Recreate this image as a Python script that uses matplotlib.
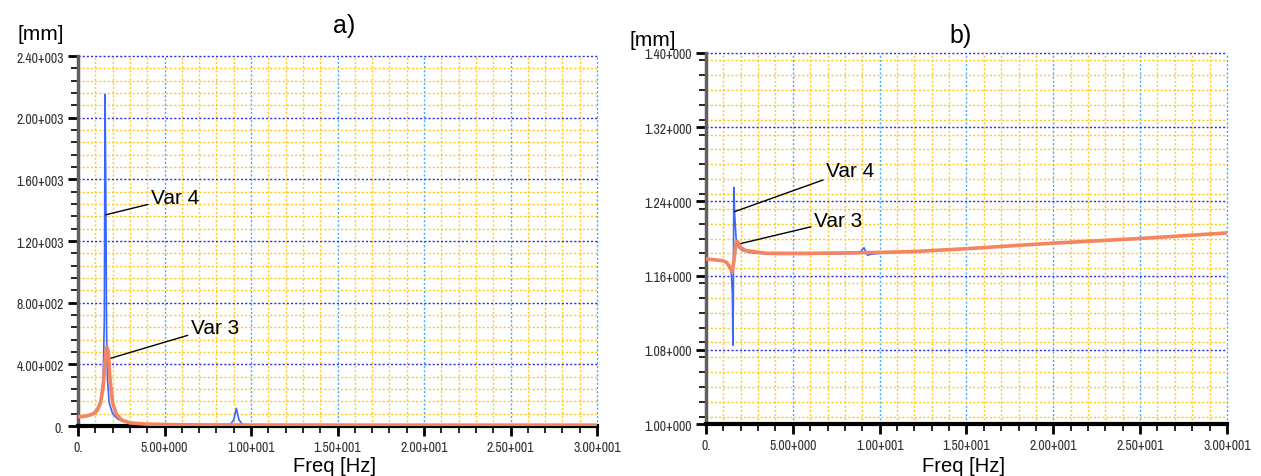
import matplotlib
matplotlib.use("Agg")
import matplotlib.pyplot as plt
from matplotlib import font_manager
from matplotlib.ticker import MultipleLocator, FixedLocator, FixedFormatter

# ---- data -------------------------------------------------------------
# a) response amplitude [mm]
freq_a_var4 = [0, 0.3, 0.6, 0.9, 1.1, 1.3, 1.45, 1.52, 1.56, 1.6, 1.65, 1.7, 1.8,
               2.0, 2.3, 2.6, 3.0, 4.0, 6.0, 8.0, 8.8, 9.0, 9.15, 9.3, 9.5, 10.0,
               15.0, 20.0, 25.0, 30.0]
amp_a_var4 = [55, 60, 70, 85, 110, 170, 300, 700, 2150, 1620, 600, 300, 150,
              80, 45, 30, 20, 12, 8, 8, 10, 40, 115, 40, 10, 6,
              5, 4, 4, 4]

freq_a_var3 = [0, 0.3, 0.6, 0.9, 1.1, 1.3, 1.45, 1.55, 1.65, 1.75, 1.85, 2.0,
               2.2, 2.5, 3.0, 4.0, 6.0, 10.0, 20.0, 30.0]
amp_a_var3 = [60, 62, 68, 80, 100, 150, 250, 400, 515, 480, 300, 150,
              80, 40, 20, 12, 8, 6, 5, 5]

# b) static-level response [mm]
freq_b_var4 = [0, 0.5, 1.0, 1.3, 1.45, 1.52, 1.55, 1.57, 1.6, 1.65, 1.75, 1.9,
               2.1, 2.5, 3.0, 4.0, 6.0, 8.8, 9.1, 9.3, 9.5, 10.0, 12.0, 15.0,
               20.0, 25.0, 30.0]
amp_b_var4 = [1.178, 1.177, 1.176, 1.172, 1.163, 1.140, 1.085, 1.130, 1.255,
              1.225, 1.195, 1.190, 1.187, 1.185, 1.184, 1.183, 1.183, 1.184,
              1.190, 1.182, 1.183, 1.184, 1.186, 1.189, 1.195, 1.200, 1.206]

freq_b_var3 = [0, 0.5, 1.0, 1.2, 1.4, 1.5, 1.6, 1.7, 1.8, 2.0, 2.3, 2.7, 3.5,
               6.0, 10.0, 12.0, 15.0, 20.0, 25.0, 30.0]
amp_b_var3 = [1.178, 1.177, 1.176, 1.174, 1.168, 1.164, 1.175, 1.192, 1.197,
              1.190, 1.187, 1.186, 1.184, 1.184, 1.185, 1.186, 1.189, 1.195,
              1.200, 1.206]

x_ticks = [0, 5, 10, 15, 20, 25, 30]
x_labels = ["0.", "5.00+000", "1.00+001", "1.50+001", "2.00+001", "2.50+001", "3.00+001"]
y_ticks_a = [0, 400, 800, 1200, 1600, 2000, 2400]
y_labels_a = ["0.", "4.00+002", "8.00+002", "1.20+003", "1.60+003", "2.00+003", "2.40+003"]
y_ticks_b = [1.00, 1.08, 1.16, 1.24, 1.32, 1.40]
y_labels_b = ["1.00+000", "1.08+000", "1.16+000", "1.24+000", "1.32+000", "1.40+000"]

# ---- fonts ------------------------------------------------------------
available = sorted({f.name for f in font_manager.fontManager.ttflist})
narrow = [n for n in available if "Narrow" in n] + \
         [n for n in available if "Condensed" in n]
if narrow:
    tick_font = font_manager.FontProperties(family=narrow[0], size=10)
else:
    cond = [f for f in font_manager.fontManager.ttflist
            if f.stretch in ("condensed", "semi-condensed", "extra-condensed")]
    if cond:
        tick_font = font_manager.FontProperties(fname=cond[0].fname, size=10)
    else:
        tick_font = font_manager.FontProperties(family="Liberation Sans", size=8.5)
text_family = "Liberation Sans" if "Liberation Sans" in available else "DejaVu Sans"
plt.rcParams["font.family"] = [text_family, "DejaVu Sans"]

C_VAR4 = "#3a66ff"
C_VAR3 = "#f58560"
C_MINOR = "#ffc81e"
C_HMAJOR = "#2a2ae8"
C_VMAJOR = "#3fa9ff"

fig = plt.figure(figsize=(12.61, 4.77), dpi=100)
ax_a = fig.add_axes([0.0619, 0.1048, 0.4116, 0.7757])
ax_b = fig.add_axes([0.5599, 0.1090, 0.4131, 0.7778])


def style_axes(ax, yticks, ylabels, yminor, ylim):
    ax.set_xlim(0, 30)
    ax.set_ylim(*ylim)
    ax.xaxis.set_major_locator(FixedLocator(x_ticks))
    ax.xaxis.set_major_formatter(FixedFormatter(x_labels))
    ax.xaxis.set_minor_locator(MultipleLocator(1))
    ax.yaxis.set_major_locator(FixedLocator(yticks))
    ax.yaxis.set_major_formatter(FixedFormatter(ylabels))
    ax.yaxis.set_minor_locator(MultipleLocator(yminor))
    ax.set_axisbelow(True)
    dot = (0, (1.5, 1.5))
    ax.grid(which="minor", color=C_MINOR, lw=1.0, ls=dot)
    ax.yaxis.grid(which="major", color=C_HMAJOR, lw=1.0, ls=dot)
    ax.xaxis.grid(which="major", color=C_VMAJOR, lw=1.0, ls=dot)
    for g in ax.get_xgridlines() + ax.get_ygridlines():
        g.set_clip_on(False)
    ax.spines["top"].set_visible(False)
    ax.spines["right"].set_visible(False)
    ax.spines["left"].set_color("#606060")
    ax.spines["left"].set_linewidth(2.5)
    ax.spines["bottom"].set_color("black")
    ax.spines["bottom"].set_linewidth(3)
    ax.tick_params(which="major", length=7, width=2, color="black",
                   labelcolor="#333333", pad=3)
    ax.tick_params(which="minor", length=5, width=1.2, color="black")
    for lbl in ax.get_xticklabels() + ax.get_yticklabels():
        lbl.set_fontproperties(tick_font)
    ax.set_facecolor("white")


style_axes(ax_a, y_ticks_a, y_labels_a, 80, (0, 2400))
style_axes(ax_b, y_ticks_b, y_labels_b, 0.016, (1.0, 1.4))

# ---- curves -------------------------------------------------------------
ax_a.plot(freq_a_var4, amp_a_var4, color=C_VAR4, lw=1.2, zorder=3)
ax_a.plot(freq_a_var3, amp_a_var3, color=C_VAR3, lw=2.6, zorder=4)
ax_b.plot(freq_b_var4, amp_b_var4, color=C_VAR4, lw=1.2, zorder=3)
ax_b.plot(freq_b_var3, amp_b_var3, color=C_VAR3, lw=2.6, zorder=4)

# ---- annotations -------------------------------------------------------
arrow = dict(arrowstyle="-", color="black", lw=1.0, shrinkA=0, shrinkB=0)
ax_a.annotate("Var 4", xy=(1.6, 1370), xytext=(4.2, 1480), fontsize=15,
              va="center", ha="left", arrowprops=arrow)
ax_a.annotate("Var 3", xy=(1.6, 430), xytext=(6.5, 640), fontsize=15,
              va="center", ha="left", arrowprops=arrow)
ax_b.annotate("Var 4", xy=(1.65, 1.229), xytext=(6.9, 1.2735), fontsize=15,
              va="center", ha="left", arrowprops=arrow)
ax_b.annotate("Var 3", xy=(1.65, 1.193), xytext=(6.2, 1.2195), fontsize=15,
              va="center", ha="left", arrowprops=arrow)

# ---- titles and axis captions -----------------------------------------
fig.text(0.273, 0.945, "a)", fontsize=18, ha="center", va="center")
fig.text(0.762, 0.925, "b)", fontsize=18, ha="center", va="center")
fig.text(0.014, 0.928, "[mm]", fontsize=15, ha="left", va="center")
fig.text(0.499, 0.915, "[mm]", fontsize=15, ha="left", va="center")
fig.text(0.265, 0.003, "Freq [Hz]", fontsize=14.5, ha="center", va="bottom")
fig.text(0.764, 0.003, "Freq [Hz]", fontsize=14.5, ha="center", va="bottom")

fig.savefig("out.png", dpi=100, facecolor="white")
